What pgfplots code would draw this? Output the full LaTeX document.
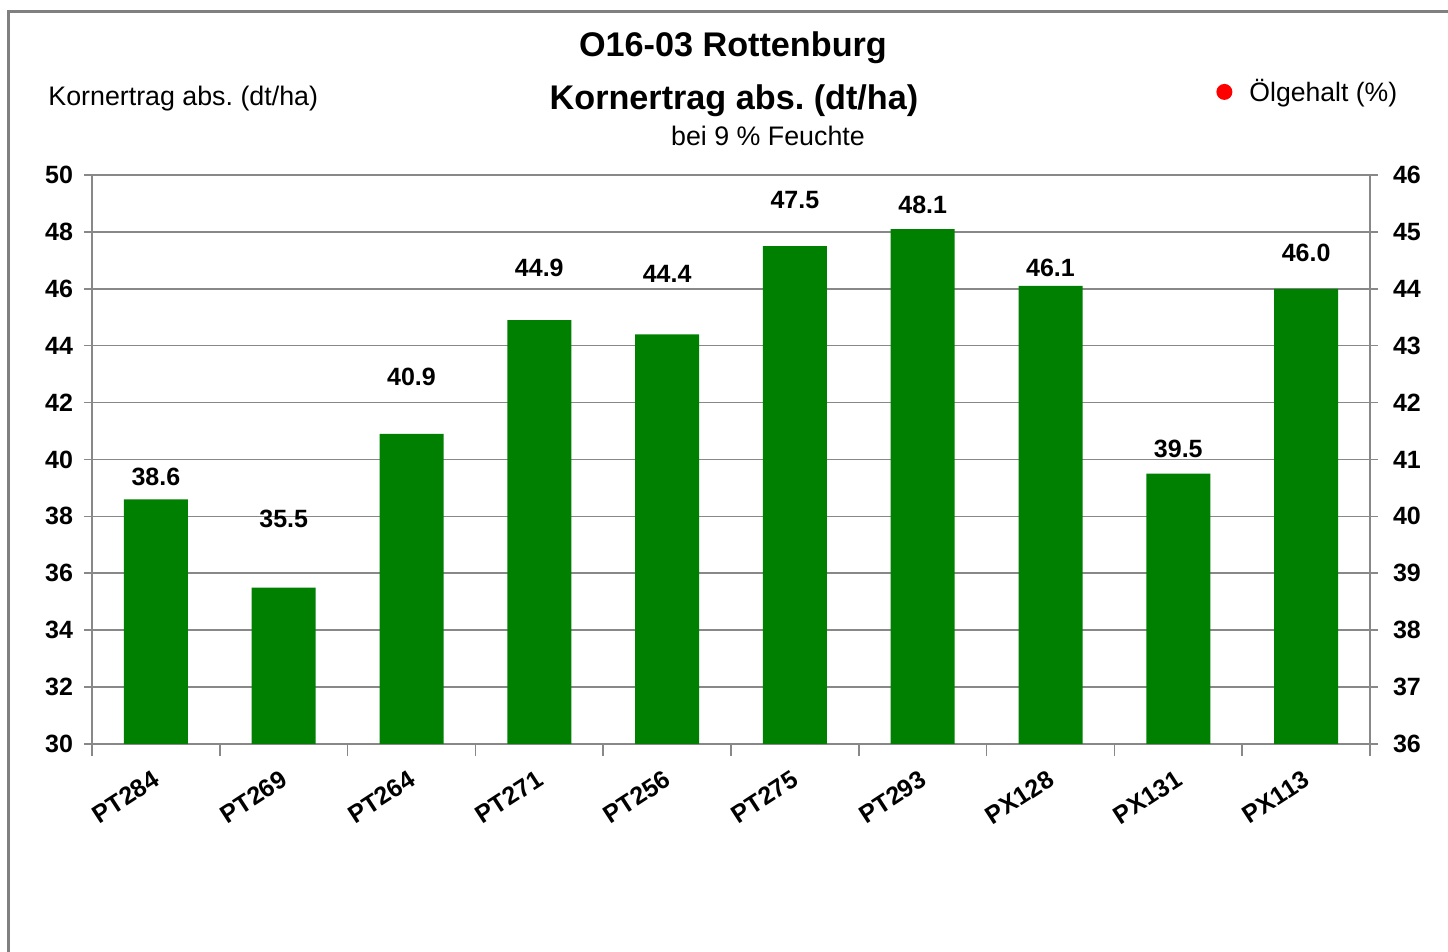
\documentclass[border=0pt]{standalone}
\usepackage{fontspec}
\setmainfont{Liberation Sans}
\usepackage{pgfplots}
\pgfplotsset{compat=1.18}
\frenchspacing
\definecolor{bargreen}{RGB}{0,128,0}
\definecolor{axgray}{RGB}{136,136,136}
\definecolor{framegray}{RGB}{128,128,128}
\newcommand{\lab}{\fontsize{12.5}{14}\selectfont\bfseries}
\begin{document}
\begin{tikzpicture}
\useasboundingbox (0pt,0pt) rectangle (724pt,476pt);
\fill[white] (0pt,0pt) rectangle (724pt,476pt);
\draw[framegray, line width=1.5pt] (4pt,-10pt) -- (4pt,470pt) -- (740pt,470pt);
\node[font=\fontsize{17.1}{20}\selectfont\bfseries] at (366.5pt,452pt) {O16-03 Rottenburg};
\node[font=\fontsize{17.1}{20}\selectfont\bfseries] at (367pt,425.5pt) {Kornertrag abs. (dt/ha)};
\node[font=\fontsize{13.4}{16}\selectfont] at (384pt,408pt) {bei 9 \% Feuchte};
\node[font=\fontsize{13.4}{16}\selectfont, anchor=west, inner sep=0pt] at (24pt,426.5pt) {Kornertrag abs. (dt/ha)};
\begin{axis}[
  at={(46pt,104pt)}, anchor=south west,
  scale only axis, width=639pt, height=284.5pt,
  xmin=0.5, xmax=10.5, ymin=30, ymax=50,
  ytick distance=2,
  xtick={1,...,10},
  xticklabels={PT284,PT269,PT264,PT271,PT256,PT275,PT293,PX128,PX131,PX113},
  major x tick style={draw=none},
  extra x ticks={0.5,1.5,...,10.5},
  extra x tick labels={},
  extra x tick style={major tick length=6pt, tick align=outside, major x tick style={draw=axgray, line width=0.8pt}},
  axis y line*=left,
  axis x line*=bottom,
  axis line style={axgray, line width=0.8pt},
  ytick align=outside, major tick length=4pt,
  ytick style={axgray, line width=0.8pt},
  ymajorgrids, grid style={axgray, line width=0.8pt},
  /pgf/number format/assume math mode=true,
  yticklabel style={font=\lab, xshift=-2pt},
  xticklabel style={font=\lab, inner sep=0pt, xshift=-2pt, yshift=-12.5pt, rotate=33, anchor=north east},
  legend style={draw=none, fill=none, at={(0.8795,1.146)}, anchor=west, inner sep=0pt,
    font=\fontsize{13.3}{16}\selectfont, legend cell align=left},
  legend image code/.code={\fill[red] (4pt,0pt) circle (4pt);},
  clip=false,
]
\addplot[ybar, bar width=32pt, fill=bargreen, draw=none] coordinates {
  (1,38.6) (2,35.5) (3,40.9) (4,44.9) (5,44.4) (6,47.5) (7,48.1) (8,46.1) (9,39.5) (10,46.0)
};
\addlegendimage{red, only marks, mark=*}
\addlegendentry{\hspace{6.5pt}Ölgehalt (\%)}
\addplot[draw=none, mark=none, forget plot, nodes near coords, point meta=explicit symbolic,
  every node near coord/.append style={anchor=center, font=\lab, inner sep=0pt}]
  table[meta=lab] {
x y lab
1 39.39 38.6
2 37.91 35.5
3 42.90 40.9
4 46.73 44.9
5 46.52 44.4
6 49.12 47.5
7 48.95 48.1
8 46.73 46.1
9 40.37 39.5
10 47.26 46.0
};
\end{axis}
\begin{axis}[
  at={(46pt,104pt)}, anchor=south west,
  scale only axis, width=639pt, height=284.5pt,
  xmin=0.5, xmax=10.5, ymin=36, ymax=46,
  ytick distance=1,
  axis y line*=right, axis x line=none,
  axis line style={axgray, line width=0.8pt},
  ytick align=outside, major tick length=4pt,
  ytick style={axgray, line width=0.8pt},
  /pgf/number format/assume math mode=true,
  yticklabel style={font=\lab, xshift=4pt},
]
\addplot[draw=none, mark=none] coordinates {(1,40)};
\end{axis}
\end{tikzpicture}
\end{document}
